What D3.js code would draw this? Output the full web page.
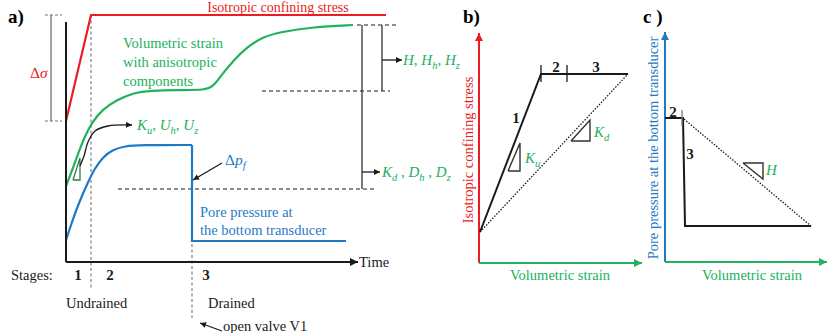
<!DOCTYPE html>
<html>
<head>
<meta charset="utf-8">
<script src="https://cdn.jsdelivr.net/npm/d3@7"></script>
<style>
body { margin: 0; background: #fff; }
text { font-family: 'Liberation Serif', 'Times New Roman', serif; }
</style>
</head>
<body>
<svg id="chart"></svg>
<script>
// schematic values, panel a in (time, level) units
var stressA = [[0, 70.5], [12.5, 123.5], [160, 123.5]];
var strainA = [[0, 38], [3.5, 47], [8.5, 61], [13, 70], [18.5, 76.5], [25.5, 81], [33.5, 84.5], [42, 85.7],
  [57, 86], [69.5, 86], [73.5, 87.5], [78.5, 94.5], [83.5, 100.5], [90.5, 107.5], [98.5, 112.5],
  [107, 115], [123.5, 117.5], [143.5, 118.5]];
var poreRiseA = [[0, 11], [3, 20], [6, 28.5], [11, 40], [14.5, 47], [18.5, 52.5], [23, 56], [29.5, 58], [37, 58.5], [63, 58.5]];
var poreDropA = [[63, 58.5], [63, 10.5], [140, 10.5]];
var kuTriA = [[3.5, 41], [7, 41], [7, 52], [3.5, 41]];
var kuArrowA = [[7, 48], [9, 53], [11, 60], [14.5, 65.5], [21, 68], [33, 68.5]];
var dpArrowA = [[78, 49.5], [63.5, 41]];
var valveArrowA = [[78, -34.5], [67, -30.5]];
var stageX = [6, 22, 70];
var stageNames = ["1", "2", "3"];
var levelsA = {low: 36.5, mid: 85.5, top: 118.5};

// panel b: volumetric strain vs confining stress
var stressPathB = [[1, 31], [62, 189], [149, 189]];
var drainedB = [[1, 31], [149, 189]];
var ticksB = [62, 88];
var kuTriB = [[29, 92], [41, 92], [41, 120], [29, 92]];
var kdTriB = [[92, 122], [111, 122], [111, 143], [92, 122]];

// panel c: volumetric strain vs pore pressure
var porePathC = [[0, 144], [18, 144], [20, 36], [146, 36]];
var drainedC = [[19, 143], [146, 36]];
var hTriC = [[78, 99], [98, 99], [98, 83], [78, 99]];

var red = "#ec1c24", green = "#22b15c", blue = "#1f7ac6", dark = "#1a1a1a", darkGreen = "#2e7a58";

var svg = d3.select("#chart").attr("width", 830).attr("height", 333);
svg.append("rect").attr("width", 830).attr("height", 333).attr("fill", "#fff");

var defs = svg.append("defs");
function marker(id, color, len, wid) {
  defs.append("marker").attr("id", id)
    .attr("viewBox", "0 0 10 10").attr("refX", 10).attr("refY", 5)
    .attr("markerUnits", "userSpaceOnUse")
    .attr("markerWidth", len).attr("markerHeight", wid)
    .attr("orient", "auto")
    .append("path").attr("d", "M0,0 L10,5 L0,10 z").attr("fill", color);
}
marker("arBlack", dark, 10, 8);
marker("arSmall", dark, 9, 6);
marker("arRed", red, 10, 8);
marker("arGreen", green, 10, 8);
marker("arBlue", blue, 10, 8);

var ax = d3.scaleLinear().domain([0, 146]).range([66, 358]);
var ay = d3.scaleLinear().domain([0, 124]).range([262, 14]);
var bx = d3.scaleLinear().domain([0, 163]).range([479, 642]);
var by = d3.scaleLinear().domain([0, 230]).range([263, 33]);
var cx = d3.scaleLinear().domain([0, 162]).range([665, 827]);
var cy = d3.scaleLinear().domain([0, 230]).range([262, 32]);

function draw(pts, sx, sy, color, width, opts) {
  opts = opts || {};
  var line = d3.line().x(function(d) { return sx(d[0]); }).y(function(d) { return sy(d[1]); })
    .curve(opts.curve || d3.curveLinear);
  var p = svg.append("path").datum(pts)
    .attr("fill", opts.fill || "none")
    .attr("stroke", color)
    .attr("stroke-width", width)
    .attr("stroke-linejoin", "miter")
    .attr("d", line);
  if (opts.dash) p.attr("stroke-dasharray", opts.dash);
  if (opts.arrow) p.attr("marker-end", "url(#" + opts.arrow + ")");
  return p;
}

// parts: [text, italic?, sub?]
function rich(x, y, parts, color, size, anchor) {
  var t = svg.append("text").attr("x", x).attr("y", y).attr("fill", color)
    .attr("font-size", size).attr("text-anchor", anchor || "start");
  var shifted = false;
  parts.forEach(function(p) {
    var s = t.append("tspan").text(p[0]);
    if (p[1]) s.attr("font-style", "italic");
    if (p[2]) {
      s.attr("font-size", size * 0.7);
      if (!shifted) { s.attr("dy", 4); shifted = true; }
    } else if (shifted) {
      s.attr("dy", -4); shifted = false;
    }
  });
  return t;
}

function label(x, y, str, color, size, opts) {
  opts = opts || {};
  var t = svg.append("text").attr("x", x).attr("y", y).attr("fill", color)
    .attr("font-size", size).attr("text-anchor", opts.anchor || "start").text(str);
  if (opts.bold) t.attr("font-weight", "bold");
  return t;
}

// ---------- panel a ----------
label(ax(-29), ay(119.5), "a)", "#000", 19, {bold: true});

// grey dotted stage separators
draw([[12.5, 123.5], [12.5, -13.5]], ax, ay, "#8c8c8c", 1.3, {dash: "3,2.5"});
draw([[63, 58.5], [63, -28]], ax, ay, "#8c8c8c", 1.3, {dash: "3,2.5"});

// dashed level guides
draw([[26, levelsA.low], [155.5, levelsA.low]], ax, ay, dark, 1, {dash: "4,3"});
draw([[98, levelsA.mid], [162, levelsA.mid]], ax, ay, dark, 1, {dash: "4,3"});
draw([[145.5, levelsA.top], [165.5, levelsA.top]], ax, ay, dark, 1, {dash: "4,3"});

// delta sigma bracket
draw([[-10.5, 123.5], [-2, 123.5]], ax, ay, "#777", 1, {dash: "3,2"});
draw([[-10.5, 70.5], [-2, 70.5]], ax, ay, "#777", 1, {dash: "3,2"});
draw([[-7.5, 123.5], [-7.5, 70.5]], ax, ay, "#666", 1.2);

// brackets to the right
draw([[148, levelsA.top], [148, levelsA.low]], ax, ay, "#333", 1.3);
draw([[148, 45], [157, 45]], ax, ay, dark, 1.3, {arrow: "arSmall"});
draw([[158, levelsA.top], [158, levelsA.mid]], ax, ay, "#333", 1.3);
draw([[158, 101], [168, 101]], ax, ay, dark, 1.3, {arrow: "arSmall"});

// curves
draw(stressA, ax, ay, red, 2.2);
draw(strainA, ax, ay, green, 2.2, {curve: d3.curveBasis});
draw(poreRiseA, ax, ay, blue, 2.2, {curve: d3.curveBasis});
draw(poreDropA, ax, ay, blue, 2.2);

// axes
draw([[0, 120], [0, 0]], ax, ay, dark, 2);
draw([[0, 0], [146, 0]], ax, ay, dark, 2, {arrow: "arBlack"});

// slope triangle and arrows
draw(kuTriA, ax, ay, darkGreen, 1.3);
draw(kuArrowA, ax, ay, dark, 1.3, {curve: d3.curveCatmullRom, arrow: "arSmall"});
draw(dpArrowA, ax, ay, dark, 1.3, {arrow: "arSmall"});
draw(valveArrowA, ax, ay, dark, 1.2, {arrow: "arSmall"});

label(ax(106), ay(125.2), "Isotropic confining stress", red, 14, {anchor: "middle"});
label(ax(28.5), ay(107), "Volumetric strain", green, 14.5);
label(ax(28.5), ay(97.5), "with anisotropic", green, 14.5);
label(ax(28.5), ay(88), "components", green, 14.5);
rich(ax(-18), ay(92), [["Δ"], ["σ", true]], red, 15.5);
rich(ax(35.5), ay(66), [["K", true], ["u", true, true], [", "], ["U", true], ["h", true, true], [", "], ["U", true], ["z", true, true]], green, 15);
rich(ax(168.5), ay(98.5), [["H", true], [", "], ["H", true], ["h", true, true], [", "], ["H", true], ["z", true, true]], green, 15);
rich(ax(158), ay(42.5), [["K", true], ["d", true, true], [" , "], ["D", true], ["h", true, true], [" , "], ["D", true], ["z", true, true]], green, 15);
rich(ax(79.5), ay(48.5), [["Δ"], ["p", true], ["f", true, true]], blue, 15.5);
label(ax(67), ay(22.5), "Pore pressure at", blue, 14.5);
label(ax(67), ay(13.5), "the bottom transducer", blue, 14.5);
label(ax(146.5), ay(-2.5), "Time", dark, 14.5);
label(ax(-27.5), ay(-9), "Stages:", dark, 14.5);
stageX.forEach(function(x, i) {
  label(ax(x), ay(-9), stageNames[i], dark, 15, {anchor: "middle", bold: true});
});
label(ax(0), ay(-23), "Undrained", dark, 14.5);
label(ax(71), ay(-23), "Drained", dark, 14.5);
label(ax(78.5), ay(-34.5), "open valve V1", dark, 14.5);

// ---------- panel b ----------
label(bx(-16), by(240), "b)", "#000", 19, {bold: true});
draw([[0, 0], [0, 230]], bx, by, red, 2, {arrow: "arRed"});
draw([[0, 0], [163, 0]], bx, by, green, 2, {arrow: "arGreen"});
draw(drainedB, bx, by, dark, 1.3, {dash: "1.5,1.5"});
draw(stressPathB, bx, by, dark, 2);
ticksB.forEach(function(x) {
  draw([[x, 198], [x, 181]], bx, by, dark, 1.3);
});
draw(kuTriB, bx, by, "#333", 1.4);
draw(kdTriB, bx, by, "#333", 1.4);
label(bx(37), by(140), "1", dark, 15, {anchor: "middle", bold: true});
label(bx(77), by(191), "2", dark, 15, {anchor: "middle", bold: true});
label(bx(117), by(191), "3", dark, 15, {anchor: "middle", bold: true});
rich(bx(46), by(100), [["K", true], ["u", true, true]], green, 15);
rich(bx(115), by(126), [["K", true], ["d", true, true]], green, 15);
label(bx(81), by(-17), "Volumetric strain", green, 14.5, {anchor: "middle"});
label(0, 0, "Isotropic confining stress", red, 14.5, {anchor: "middle"})
  .attr("transform", "translate(" + bx(-6) + "," + by(113) + ") rotate(-90)");

// ---------- panel c ----------
label(cx(-22), cy(239), "c )", "#000", 19, {bold: true});
draw([[0, 0], [0, 230]], cx, cy, blue, 2, {arrow: "arBlue"});
draw([[0, 0], [162, 0]], cx, cy, green, 2, {arrow: "arGreen"});
draw(drainedC, cx, cy, dark, 1.3, {dash: "1.5,1.5"});
draw(porePathC, cx, cy, dark, 2);
draw([[17, 152], [17, 136]], cx, cy, "#777", 1.3);
draw(hTriC, cx, cy, "#333", 1.4);
label(cx(8), cy(145), "2", dark, 15, {anchor: "middle", bold: true});
label(cx(25), cy(103), "3", dark, 15, {anchor: "middle", bold: true});
rich(cx(101), cy(87), [["H", true]], green, 15);
label(cx(87), cy(-18), "Volumetric strain", green, 14.5, {anchor: "middle"});
label(0, 0, "Pore pressure at the bottom transducer", blue, 14.5, {anchor: "middle"})
  .attr("transform", "translate(" + cx(-7) + "," + cy(114) + ") rotate(-90)");
</script>
</body>
</html>
